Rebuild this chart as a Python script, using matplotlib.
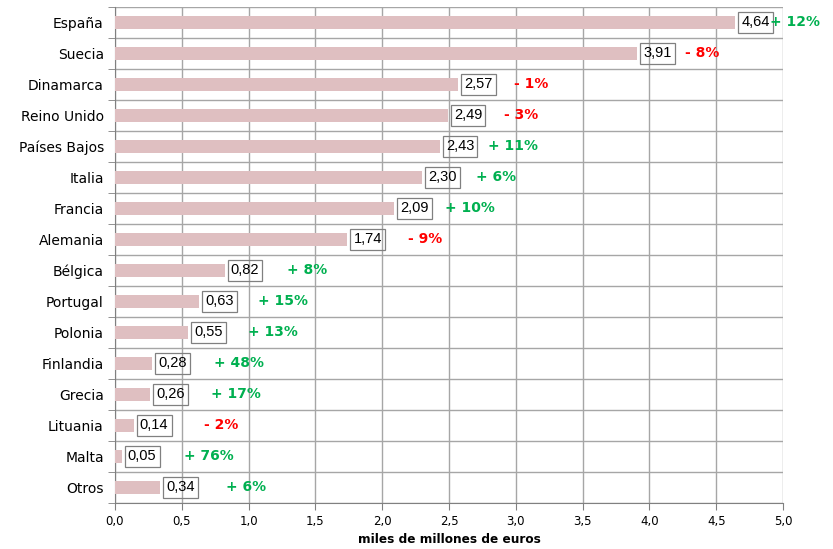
import matplotlib.pyplot as plt
import numpy as np
from matplotlib.ticker import FuncFormatter, FixedLocator

paises = ['España', 'Suecia', 'Dinamarca', 'Reino Unido', 'Países Bajos', 'Italia',
          'Francia', 'Alemania', 'Bélgica', 'Portugal', 'Polonia', 'Finlandia',
          'Grecia', 'Lituania', 'Malta', 'Otros']
valores = [4.64, 3.91, 2.57, 2.49, 2.43, 2.30, 2.09, 1.74, 0.82, 0.63, 0.55,
           0.28, 0.26, 0.14, 0.05, 0.34]
variacion = [12, -8, -1, -3, 11, 6, 10, -9, 8, 15, 13, 48, 17, -2, 76, 6]

fig = plt.figure(figsize=(8.33, 5.49), dpi=100)
ax = fig.add_axes([0.138, 0.0838, 0.802, 0.9035])

n = len(paises)
y = np.arange(n)[::-1]
ax.barh(y, valores, height=0.39, color='#dfbfc1', zorder=3)

px = 0.802 * 833 / 5.0  # pixels per data unit
fs_val = 10.5
pad = 0.22
pad_px = pad * fs_val * 100 / 72
for yi, v, p in zip(y, valores, variacion):
    ax.text(v + (3 + pad_px) / px, yi, f'{v:.2f}'.replace('.', ','), ha='left', va='center',
            fontsize=fs_val, family='Liberation Sans', color='#000000', zorder=4,
            bbox=dict(boxstyle=f'square,pad={pad}', fc='none', ec='#808080', lw=0.9))
    signo = '+' if p > 0 else '-'
    col = '#00b050' if p > 0 else '#ff0000'
    off = (88 - 6 * v) / px
    ax.text(v + off, yi, f'{signo} {abs(p)}%', ha='center', va='center',
            fontsize=10, fontweight='bold', color=col, zorder=4, clip_on=False)

ax.set_xlim(0, 5)
ax.set_ylim(-0.5, n - 0.5)
ax.set_xticks(np.arange(0, 5.01, 0.5))
ax.xaxis.set_major_formatter(FuncFormatter(lambda x, _: f'{x:.1f}'.replace('.', ',')))
ax.set_yticks(y)
ax.set_yticklabels(paises, fontsize=10)
ax.tick_params(axis='y', length=0, pad=8)
ax.yaxis.set_minor_locator(FixedLocator(np.arange(-0.5, n, 1)))
ax.tick_params(axis='y', which='minor', length=5, color='#808080')
ax.tick_params(axis='x', length=5, color='#808080', labelsize=8.5, pad=4)
ax.grid(axis='x', color='#a6a6a6', lw=1, zorder=0)
ax.grid(axis='y', which='minor', color='#a6a6a6', lw=1, zorder=0)
ax.set_axisbelow(True)
for s in ['top', 'right']:
    ax.spines[s].set_visible(False)
for s in ['left', 'bottom']:
    ax.spines[s].set_color('#808080')
ax.set_xlabel('miles de millones de euros', fontsize=8.7, fontweight='bold', labelpad=3)

fig.savefig('out.png', dpi=100)
